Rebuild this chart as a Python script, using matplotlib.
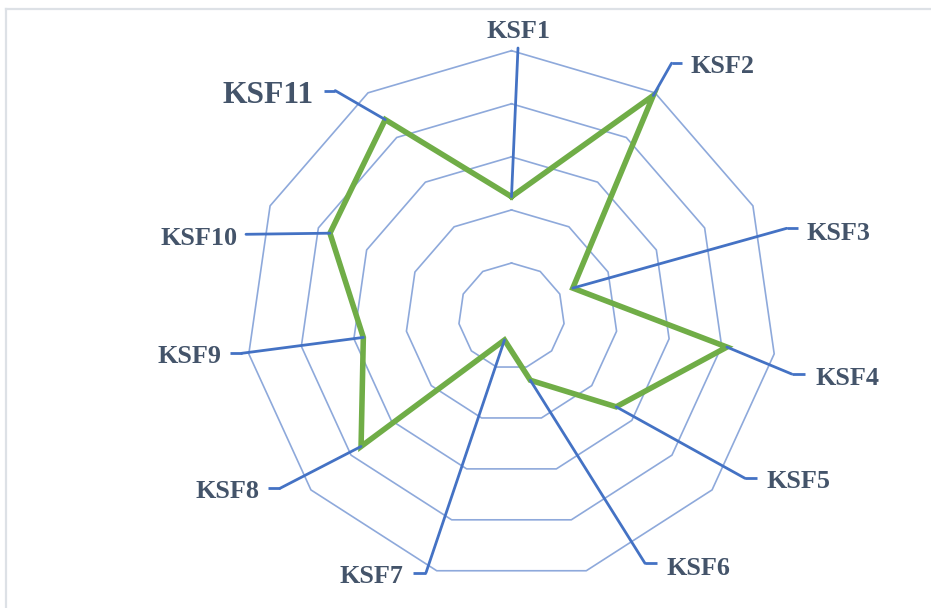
import numpy as np
import matplotlib
matplotlib.use("Agg")
import matplotlib.pyplot as plt
from matplotlib.lines import Line2D

# ---- data ----
categories = ["KSF1", "KSF2", "KSF3", "KSF4", "KSF5", "KSF6",
              "KSF7", "KSF8", "KSF9", "KSF10", "KSF11"]
values = [2.25, 4.94, 1.27, 4.10, 2.61, 1.26, 0.47, 3.75, 2.82, 3.76, 4.40]
ring_levels = [1, 2, 3, 4, 5]

# ---- label layout (pixel positions, origin top-left) ----
# elbow of the leader line, end of its horizontal stub
elbow_x = [518.0, 671.6, 786.7, 791.7, 745.0, 645.0, 426.0, 280.0, 241.7, 246.0, 335.2]
elbow_y = [48.0, 63.2, 228.3, 374.0, 478.3, 563.3, 572.7, 488.3, 353.3, 234.3, 90.6]
stub_x = [518.0, 681.7, 798.3, 805.0, 756.7, 657.3, 413.3, 268.3, 230.0, 246.0, 324.4]
# text anchor: x, baseline y, horizontal alignment, font size
text_x = [518.3, 690.7, 806.7, 815.0, 766.7, 666.7, 403.3, 260.0, 221.7, 237.3, 313.3]
text_y = [38.5, 73.3, 240.0, 385.0, 488.3, 575.0, 583.3, 498.3, 363.3, 245.0, 103.0]
text_ha = ["center", "left", "left", "left", "left", "left",
           "right", "right", "right", "right", "right"]
text_size = [18.8, 18.8, 18.8, 18.8, 18.8, 18.8, 18.8, 18.8, 18.8, 18.8, 22.8]

W, H = 931, 608
GREEN = "#70AD47"
BLUE = "#4472C4"
RING = "#8EA9DB"
TEXT = "#44546A"


def fx(px):
    return px / W


def fy(py):
    return 1 - py / H


fig = plt.figure(figsize=(W / 100, H / 100), dpi=100)
fig.patch.set_facecolor("white")

# frame lines along the top and left edges
fig.add_artist(Line2D([fx(6), fx(931)], [fy(9), fy(9)], transform=fig.transFigure,
                      color="#DDE1E6", lw=1.6))
fig.add_artist(Line2D([fx(6), fx(6)], [fy(9), fy(608)], transform=fig.transFigure,
                      color="#DDE1E6", lw=1.6))

cx, cy, R = 511.5, 316.1, 265.4
ax = fig.add_axes([fx(cx - R), 1 - (cy + R) / H, 2 * R / W, 2 * R / H],
                  projection="polar")
ax.set_theta_zero_location("N")
ax.set_theta_direction(-1)
ax.set_ylim(0, max(ring_levels))
ax.set_axis_off()

n = len(categories)
theta = np.arange(n) * 2 * np.pi / n
theta_closed = np.append(theta, theta[0])

# polygonal grid rings
for lvl in ring_levels:
    ax.plot(theta_closed, [lvl] * (n + 1), color=RING, lw=1.2, zorder=1,
            clip_on=False)

# data series
vals_closed = values + values[:1]
ax.plot(theta_closed, vals_closed, color=GREEN, lw=4.0, zorder=3,
        solid_joinstyle="miter", clip_on=False)

# leader lines and labels
for i, name in enumerate(categories):
    ax.annotate("", xy=(theta[i], values[i]), xycoords="data",
                xytext=(fx(elbow_x[i]), fy(elbow_y[i])),
                textcoords="figure fraction", annotation_clip=False,
                arrowprops=dict(arrowstyle="-", color=BLUE, lw=2.0,
                                shrinkA=0, shrinkB=0), zorder=4)
    if stub_x[i] != elbow_x[i]:
        fig.add_artist(Line2D([fx(elbow_x[i]), fx(stub_x[i])],
                              [fy(elbow_y[i]), fy(elbow_y[i])],
                              transform=fig.transFigure, color=BLUE, lw=2.0,
                              solid_capstyle="butt", zorder=4))
    fig.text(fx(text_x[i]), fy(text_y[i]), name, ha=text_ha[i], va="baseline",
             fontsize=text_size[i], fontweight="bold",
             family=["Liberation Serif", "DejaVu Serif"], color=TEXT)

fig.savefig("out.png", dpi=100, facecolor="white")
